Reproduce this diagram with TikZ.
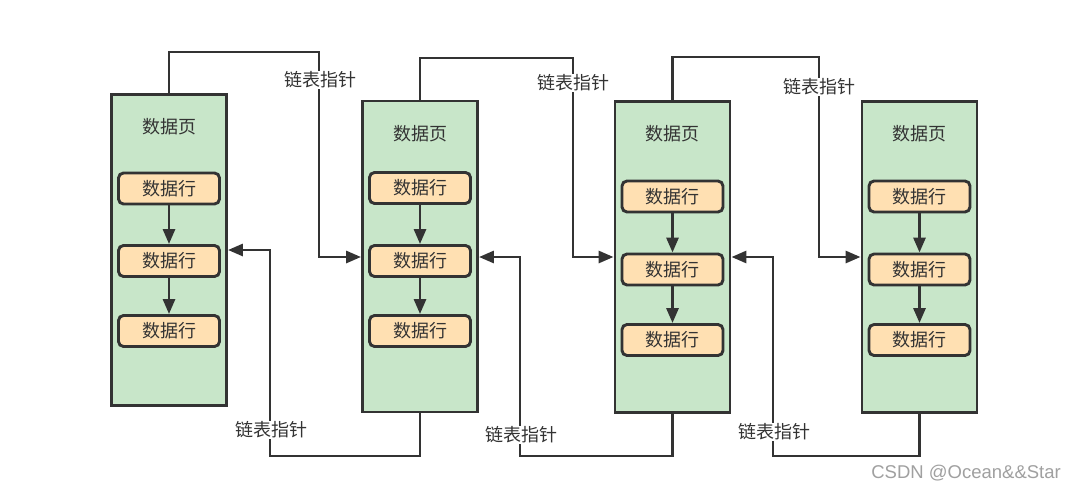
\documentclass[tikz,border=0pt]{standalone}
\usepackage{fontspec}
\setmainfont{Noto Sans CJK SC}
\newfontfamily\wmfont{Liberation Sans}
\usetikzlibrary{arrows.meta}
\definecolor{linec}{HTML}{333333}
\definecolor{pagefill}{HTML}{C8E6C9}
\definecolor{rowfill}{HTML}{FFE0B2}
\definecolor{wmc}{HTML}{A0A0A0}
\begin{document}
\begin{tikzpicture}[x=1pt,y=-1pt,
  page/.style={draw=linec,line width=2.9pt,fill=pagefill,minimum width=115pt,minimum height=311pt,inner sep=0pt},
  row/.style={draw=linec,line width=2.9pt,fill=rowfill,rounded corners=5pt,minimum width=101pt,minimum height=31pt,inner sep=0pt,font=\fontsize{18}{20}\selectfont,text=linec},
  title/.style={font=\fontsize{18}{20}\selectfont,text=linec,inner sep=0pt},
  lbl/.style={font=\fontsize{18}{20}\selectfont,text=linec,fill=white,inner sep=1pt},
  conn/.style={draw=linec,line width=2.9pt,-{Triangle[length=15pt,width=12pt]}}
]
\useasboundingbox (0,0) rectangle (1076,490);
\fill[white] (0,0) rectangle (1076,490);

% pages
\node[page] (p1) at (169,250) {};
\node[page] (p2) at (420,256.5) {};
\node[page] (p3) at (672.5,257) {};
\node[page] (p4) at (919.5,257) {};

% titles
\node[title] (t1) at (169,127) {数据页};
\node[title] (t2) at (420,134) {数据页};
\node[title] (t3) at (672.5,134) {数据页};
\node[title] (t4) at (919.5,134) {数据页};

% rows
\node[row] (r11) at (169,188.5) {数据行};
\node[row] (r12) at (169,261) {数据行};
\node[row] (r13) at (169,331) {数据行};
\node[row] (r21) at (420,188) {数据行};
\node[row] (r22) at (420,261) {数据行};
\node[row] (r23) at (420,331) {数据行};
\node[row] (r31) at (672.5,196.5) {数据行};
\node[row] (r32) at (672.5,269.5) {数据行};
\node[row] (r33) at (672.5,340) {数据行};
\node[row] (r41) at (919.5,196.5) {数据行};
\node[row] (r42) at (919.5,269.5) {数据行};
\node[row] (r43) at (919.5,340) {数据行};

% row arrows
\foreach \p in {1,2,3,4}{
  \draw[conn] (r\p1) -- (r\p2);
  \draw[conn] (r\p2) -- (r\p3);
}

% top connectors (forward pointers)
\coordinate (a1) at (169,52);  \coordinate (a2) at (319,52);  \coordinate (a3) at (319,257);
\draw[conn] (p1.north) -- (a1) -- (a2) -- (a3) -- (p2.west |- a3);
\coordinate (b1) at (420,58);  \coordinate (b2) at (573,58);  \coordinate (b3) at (573,257);
\draw[conn] (p2.north) -- (b1) -- (b2) -- (b3) -- (p3.west |- b3);
\coordinate (c1) at (672.5,57); \coordinate (c2) at (819,57); \coordinate (c3) at (819,257);
\draw[conn] (p3.north) -- (c1) -- (c2) -- (c3) -- (p4.west |- c3);

% bottom connectors (backward pointers)
\coordinate (d1) at (420,456); \coordinate (d2) at (270,456); \coordinate (d3) at (270,250);
\draw[conn] (p2.south) -- (d1) -- (d2) -- (d3) -- (p1.east |- d3);
\coordinate (e1) at (672.5,456); \coordinate (e2) at (520,456); \coordinate (e3) at (520,257);
\draw[conn] (p3.south) -- (e1) -- (e2) -- (e3) -- (p2.east |- e3);
\coordinate (f1) at (919.5,456); \coordinate (f2) at (773,456); \coordinate (f3) at (773,257);
\draw[conn] (p4.south) -- (f1) -- (f2) -- (f3) -- (p3.east |- f3);

% labels
\node[lbl] (l1) at (320,80) {链表指针};
\node[lbl] (l2) at (573,83) {链表指针};
\node[lbl] (l3) at (819,87) {链表指针};
\node[lbl] (l4) at (271,430) {链表指针};
\node[lbl] (l5) at (521,435) {链表指针};
\node[lbl] (l6) at (774,432) {链表指针};

% watermark
\node[font=\wmfont\fontsize{18.5}{20}\selectfont,text=wmc,inner sep=0pt,anchor=east] (wm) at (1061,473) {CSDN @Ocean\&\&Star};
\end{tikzpicture}
\end{document}
